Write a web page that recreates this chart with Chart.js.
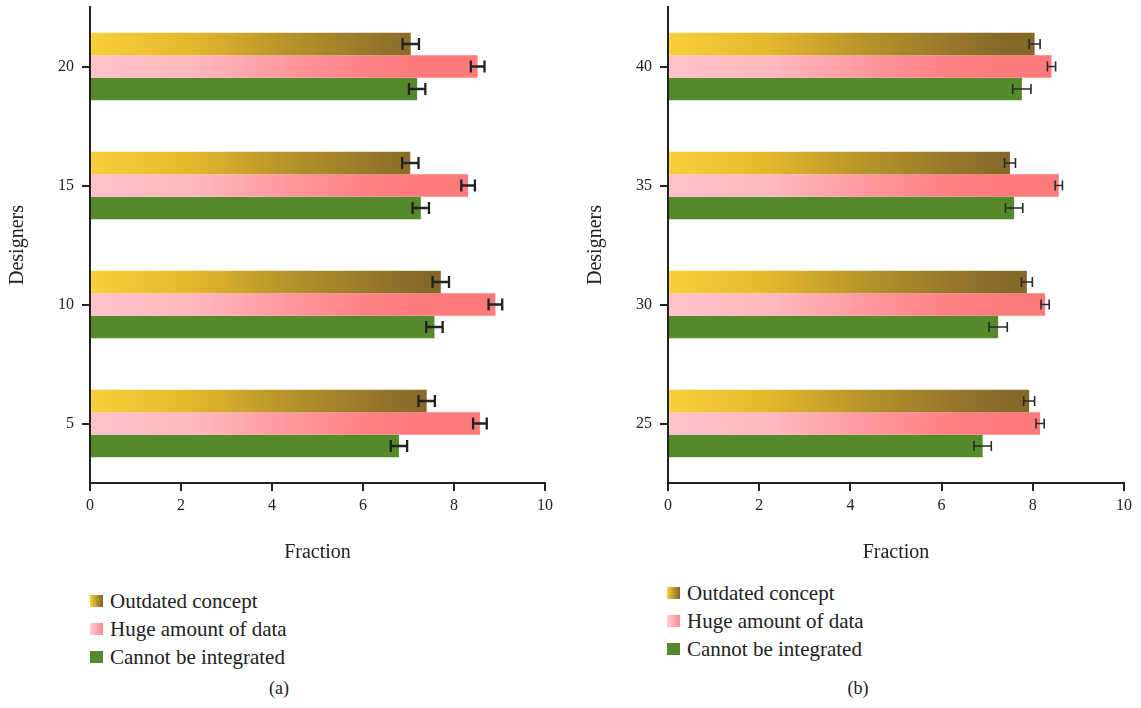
<!DOCTYPE html>
<html>
<head>
<meta charset="utf-8">
<script src="https://cdn.jsdelivr.net/npm/chart.js@4/dist/chart.umd.min.js"></script>
<style>
  html, body { margin: 0; padding: 0; background: #fff; }
  body { width: 1141px; height: 708px; position: relative; overflow: hidden;
         font-family: 'Liberation Serif', 'Times New Roman', serif; color: #222; }
  canvas { position: absolute; top: 0; }
  #chartA { left: 0; }
  #chartB { left: 578px; }
  .legend { position: absolute; font-size: 21px; line-height: 28px; }
  .legend .item { display: flex; align-items: center; white-space: nowrap; }
  .legend .box { width: 13px; height: 12px; margin-right: 7px; flex: none; }
  .caption { position: absolute; top: 678px; font-size: 18px; width: 40px; text-align: center; }
</style>
</head>
<body>
<canvas id="chartA" width="560" height="575"></canvas>
<canvas id="chartB" width="561" height="575"></canvas>
<div class="legend" id="legendA" style="left:90px; top:587px;"></div>
<div class="legend" id="legendB" style="left:667px; top:579px;"></div>
<div class="caption" style="left:259px;">(a)</div>
<div class="caption" style="left:838px;">(b)</div>

<script>
// ---- data ----
const seriesNames = ['Outdated concept', 'Huge amount of data', 'Cannot be integrated'];
const xTicks = [0, 2, 4, 6, 8, 10];

// panel (a)
const designersA = ['20', '15', '10', '5'];
const outdatedA = [7.05, 7.04, 7.71, 7.40];
const hugeDataA = [8.52, 8.31, 8.91, 8.57];
const integrA   = [7.19, 7.27, 7.57, 6.79];
const outdatedErrA = [0.18, 0.18, 0.18, 0.18];
const hugeDataErrA = [0.15, 0.15, 0.15, 0.15];
const integrErrA   = [0.18, 0.18, 0.18, 0.18];

// panel (b)
const designersB = ['40', '35', '30', '25'];
const outdatedB = [8.04, 7.50, 7.87, 7.92];
const hugeDataB = [8.41, 8.57, 8.27, 8.16];
const integrB   = [7.76, 7.59, 7.24, 6.90];
const outdatedErrB = [0.12, 0.12, 0.12, 0.12];
const hugeDataErrB = [0.09, 0.08, 0.09, 0.09];
const integrErrB   = [0.20, 0.19, 0.20, 0.19];

// ---- styling ----
const yellowStops = [[0, '#f9cf3c'], [0.28, '#e6b92c'], [0.6, '#b3912a'], [0.85, '#94752a'], [1, '#84682a']];
const pinkStops   = [[0, '#ffc3ca'], [0.3, '#ffb8bf'], [0.6, '#ff969c'], [0.82, '#ff8084'], [1, '#ff7a7b']];
const greenColor  = '#558a2b';
const inkColor    = '#222';

Chart.defaults.font.family = "'Liberation Serif', 'Times New Roman', serif";
Chart.defaults.color = inkColor;

// horizontal gradient along the value axis (0 -> 7.5)
function gradientFill(stops) {
  return (ctx) => {
    const chart = ctx.chart;
    if (!chart.chartArea) return stops[0][1];
    const xs = chart.scales.x;
    const g = chart.ctx.createLinearGradient(xs.getPixelForValue(0), 0, xs.getPixelForValue(7.5), 0);
    stops.forEach(([o, c]) => g.addColorStop(o, c));
    return g;
  };
}

// whiskers drawn at each bar end
const errorBars = {
  id: 'errorBars',
  afterDatasetsDraw(chart, args, opts) {
    const ctx = chart.ctx;
    const xs = chart.scales.x;
    ctx.save();
    ctx.strokeStyle = opts.color;
    ctx.lineWidth = opts.lineWidth;
    chart.data.datasets.forEach((ds, di) => {
      const meta = chart.getDatasetMeta(di);
      meta.data.forEach((bar, i) => {
        const v = ds.data[i], e = ds.errors[i];
        const x0 = xs.getPixelForValue(v - e), x1 = xs.getPixelForValue(v + e);
        const y = bar.y, h = opts.cap / 2;
        ctx.beginPath();
        ctx.moveTo(x0, y); ctx.lineTo(x1, y);
        ctx.moveTo(x0, y - h); ctx.lineTo(x0, y + h);
        ctx.moveTo(x1, y - h); ctx.lineTo(x1, y + h);
        ctx.stroke();
      });
    });
    ctx.restore();
  }
};

function buildChart(canvasId, labels, values, errors, whisker) {
  const fills = [gradientFill(yellowStops), gradientFill(pinkStops), greenColor];
  const datasets = seriesNames.map((name, k) => ({
    label: name,
    data: values[k],
    errors: errors[k],
    backgroundColor: fills[k],
    borderWidth: 0,
    barPercentage: 1,
    categoryPercentage: 0.567
  }));
  return new Chart(document.getElementById(canvasId), {
    type: 'bar',
    data: { labels, datasets },
    plugins: [errorBars],
    options: {
      indexAxis: 'y',
      responsive: false,
      animation: false,
      devicePixelRatio: 1,
      layout: { padding: { top: 7, right: 15, left: 0, bottom: 0 } },
      plugins: {
        legend: { display: false },
        tooltip: { enabled: false },
        errorBars: whisker
      },
      scales: {
        x: {
          min: 0, max: 10,
          afterBuildTicks: (s) => { s.ticks = xTicks.map(v => ({ value: v })); },
          afterFit: (s) => { s.height = 92; },
          grid: { drawOnChartArea: false, drawTicks: true, tickLength: 8, color: inkColor, lineWidth: 2 },
          border: { display: true, color: inkColor, width: 2 },
          ticks: { font: { size: 16 }, padding: 5, color: inkColor },
          title: { display: true, text: 'Fraction', font: { size: 20 }, padding: { top: 0, bottom: 10 }, color: inkColor }
        },
        y: {
          afterFit: (s) => { s.width = 90; s.paddingTop = 0; s.paddingBottom = 0; },
          grid: { drawOnChartArea: false, drawTicks: true, tickLength: 8, color: inkColor, lineWidth: 2, offset: false },
          border: { display: true, color: inkColor, width: 2 },
          ticks: { font: { size: 16 }, padding: 8, color: inkColor },
          title: { display: true, text: 'Designers', font: { size: 20 }, padding: { top: 6, bottom: 0 }, color: inkColor }
        }
      }
    }
  });
}

const chartA = buildChart('chartA', designersA,
  [outdatedA, hugeDataA, integrA], [outdatedErrA, hugeDataErrA, integrErrA],
  { lineWidth: 2.3, cap: 12, color: inkColor });
const chartB = buildChart('chartB', designersB,
  [outdatedB, hugeDataB, integrB], [outdatedErrB, hugeDataErrB, integrErrB],
  { lineWidth: 1.6, cap: 10, color: '#2a2a2a' });

// legends built from the dataset labels
const legendSwatch = [
  'linear-gradient(to right, #f8d040, #7f6526)',
  'linear-gradient(to right, #ffd0d5, #ff8a8e)',
  greenColor
];
function buildLegend(chart, elId) {
  const el = document.getElementById(elId);
  chart.data.datasets.forEach((ds, k) => {
    const item = document.createElement('div');
    item.className = 'item';
    const box = document.createElement('span');
    box.className = 'box';
    box.style.background = legendSwatch[k];
    const txt = document.createElement('span');
    txt.textContent = ds.label;
    item.appendChild(box); item.appendChild(txt);
    el.appendChild(item);
  });
}
buildLegend(chartA, 'legendA');
buildLegend(chartB, 'legendB');
</script>
</body>
</html>
